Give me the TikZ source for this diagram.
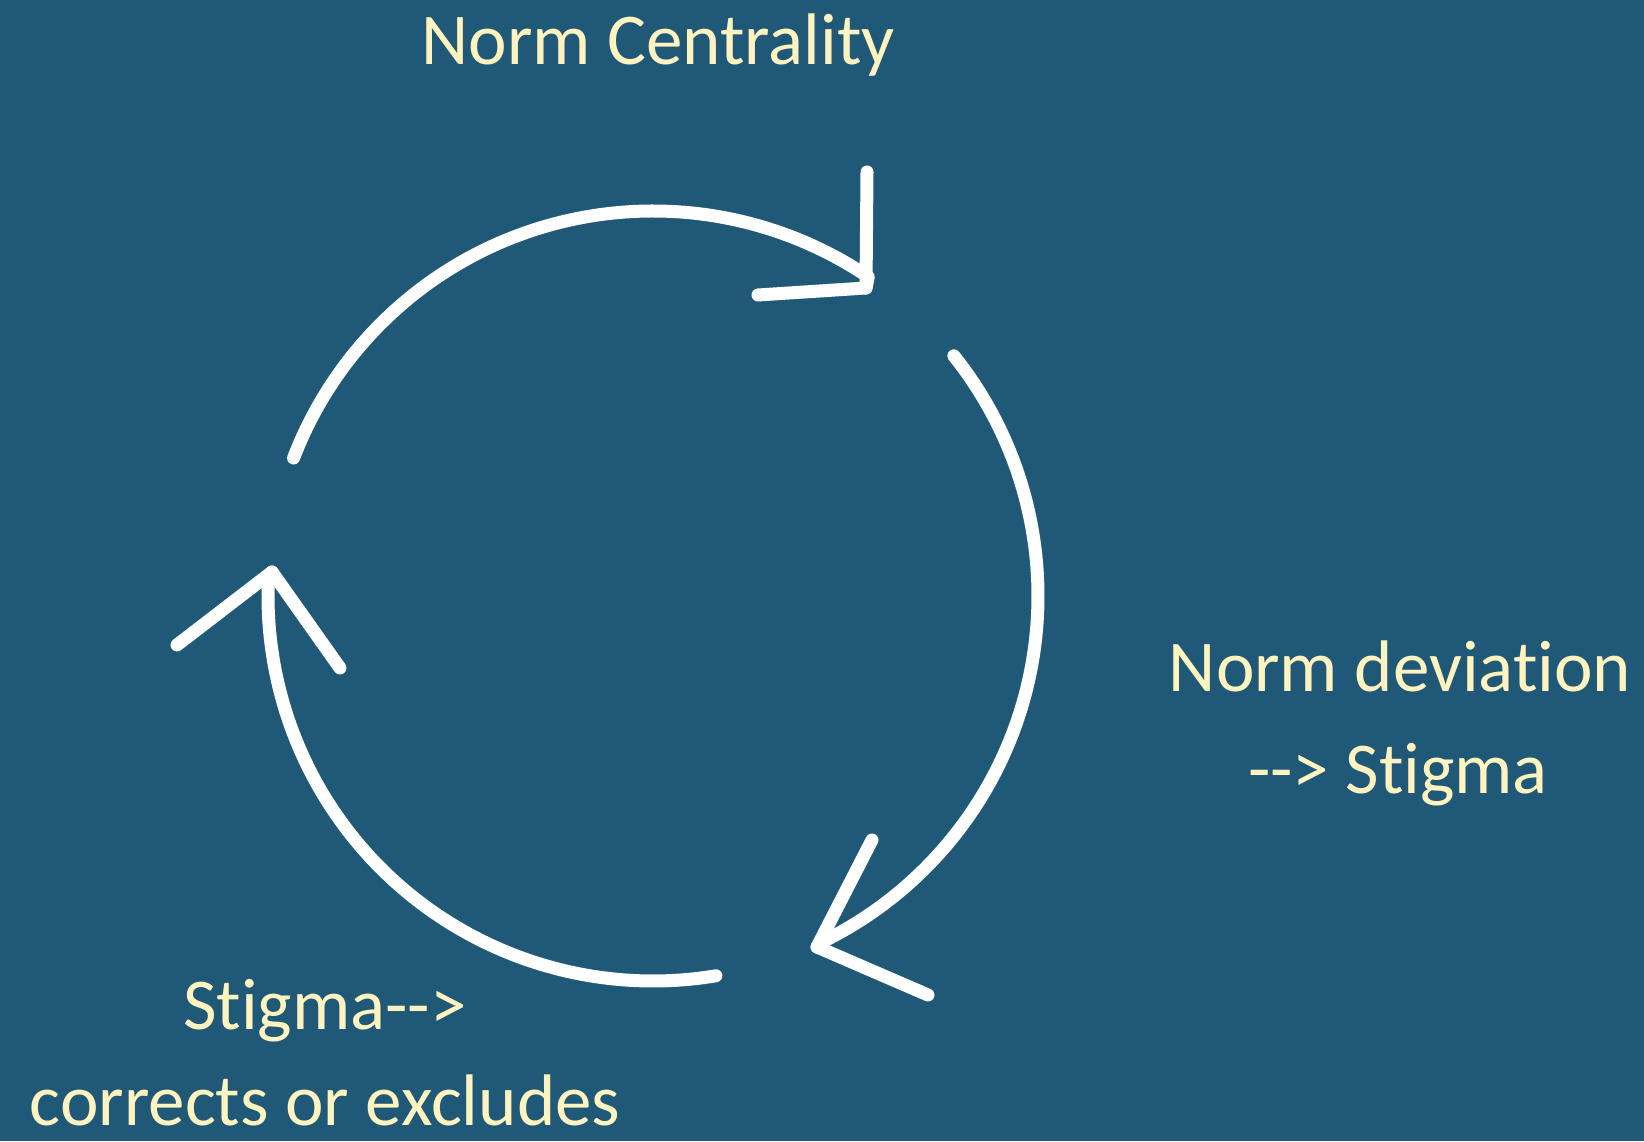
\documentclass[tikz,border=0pt]{standalone}
\usepackage{fontspec}
\setmainfont{Carlito}[Ligatures={TeXOff,NoCommon}]
\definecolor{bgblue}{RGB}{32,89,119}
\definecolor{labelyellow}{RGB}{255,243,192}
\begin{document}
\begin{tikzpicture}[x=1pt,y=1pt,
  chalk/.style={draw=white,line width=13pt,line cap=round,line join=round},
  label/.style={text=labelyellow,font=\fontsize{73}{88}\selectfont,anchor=base,inner sep=0pt}]
\fill[bgblue] (0,0) rectangle (1644,1141);
\useasboundingbox (0,0) rectangle (1644,1141);
\coordinate (c) at (653,545);
% tips and arms
\coordinate (t1) at (866,853);
\coordinate (t1a) at (867,969);
\coordinate (t1b) at (758,846);
\coordinate (t2) at (817,194);
\coordinate (t2a) at (872,301);
\coordinate (t2b) at (928,146);
\coordinate (t3) at (272,569);
\coordinate (t3a) at (177,496);
\coordinate (t3b) at (340,473);
% arcs
\draw[chalk] (c) ++(159:385) arc[start angle=159,end angle=56,radius=385] -- (t1);
\draw[chalk] (t1a) -- (t1) -- (t1b);
\draw[chalk] (c) ++(38.6:385) arc[start angle=38.6,end angle=-63,radius=385] -- (t2);
\draw[chalk] (t2a) -- (t2) -- (t2b);
\draw[chalk] (c) ++(-80.6:385) arc[start angle=-80.6,end angle=-183,radius=385] -- (t3);
\draw[chalk] (t3a) -- (t3) -- (t3b);
% labels
\node[label] (nc) at (658,1076) {Norm Centrality};
\node[label] (nd1) at (1400,449) {Norm deviation};
\node[label] (nd2) at (1398,347) {--> Stigma};
\node[label] (sg1) at (325,111) {Stigma-->};
\node[label] (sg2) at (325,16) {corrects or excludes};
\end{tikzpicture}
\end{document}
